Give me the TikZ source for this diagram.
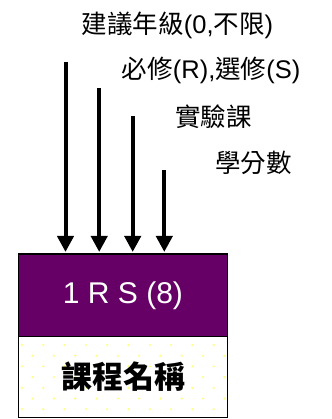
\documentclass[tikz,border=0pt]{standalone}
\usepackage{fontspec}
\usepackage{xcolor}
\usepackage{tikz}
\setmainfont{Liberation Sans}
\newfontfamily\cjk{Noto Sans CJK TC}
\usetikzlibrary{arrows.meta, positioning}
\definecolor{coursepurple}{RGB}{102,0,102}
\definecolor{dotyellow}{RGB}{255,255,140}

\begin{document}
\begin{tikzpicture}[x=1pt,y=1pt]
        \useasboundingbox (0,0) rectangle (331,419);
        % dotted background of the name box
        \begin{scope}
          \clip (18.3,1.7) rectangle (227.7,82.3);
          \foreach \i in {0,...,7} {
            \foreach \j in {0,...,10} {
              \fill[dotyellow] ({22+mod(\i,2)*10.65+21.3*\j},{74-10.7*\i}) circle (1.3);
            }
          }
        \end{scope}
        \begin{scope}[every node/.style={draw=black,line width=1.5pt,outer sep=0pt,
            minimum width=209.4pt,inner sep=0pt}]
          \node[fill=coursepurple,minimum height=82.7pt,text=white,
            font=\fontsize{30}{32}\selectfont] (head) at (123,123.65) {1 R S (8)};
          \node[below=0pt of head,minimum height=80.6pt,
            font=\fontsize{31}{33}\selectfont\cjk\bfseries] (title) {課程名稱};
        \end{scope}
        \begin{scope}[every node/.style={anchor=west,inner sep=0pt,
            font=\fontsize{25.5}{27}\selectfont}]
          \node (grade) at (81.7,394) {{\cjk 建議年級}(0,{\cjk 不限})};
          \node (type) at (121.7,349) {{\cjk 必修}(R),{\cjk 選修}(S)};
          \node (lab) at (175,302) {\cjk 實驗課};
          \node (credit) at (215,256) {\cjk 學分數};
        \end{scope}
        \coordinate (gradetop) at (65.5,357.3);
        \coordinate (typetop) at (99.2,330.7);
        \coordinate (labtop) at (132.7,303);
        \coordinate (credittop) at (164.3,249);
        \begin{scope}[every path/.style={draw=black,line width=4pt,
            -{Triangle[width=16pt,length=16pt]},shorten >=2pt}]
          \path (gradetop) -- (gradetop |- head.north);
          \path (typetop) -- (typetop |- head.north);
          \path (labtop) -- (labtop |- head.north);
          \path (credittop) -- (credittop |- head.north);
        \end{scope}
      \end{tikzpicture}
\end{document}
